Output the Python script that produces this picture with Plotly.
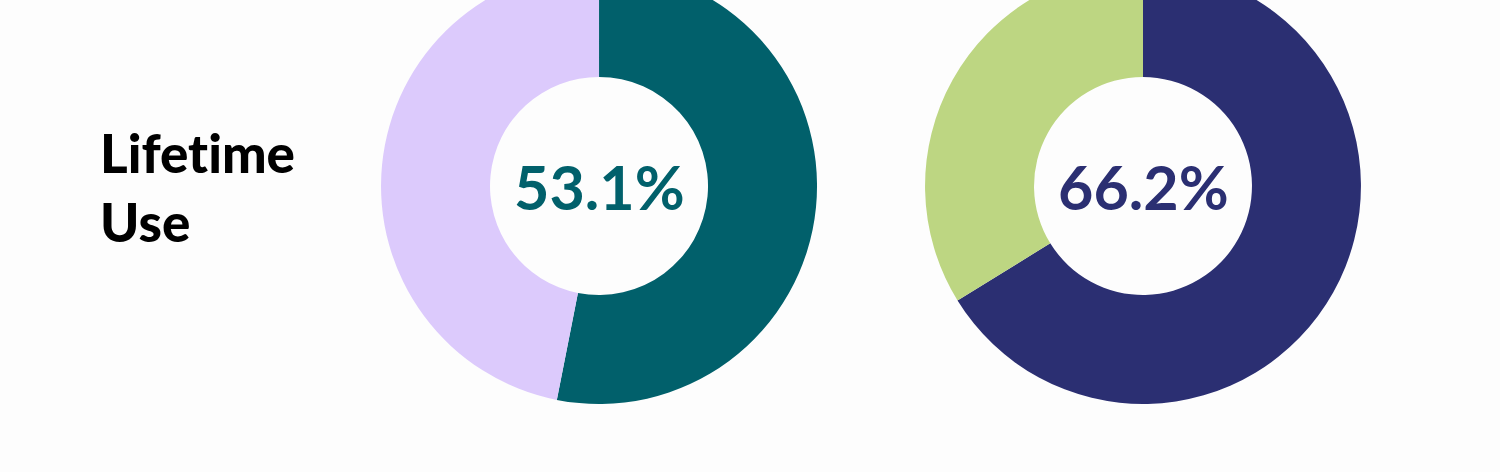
import plotly.graph_objects as go

# share of respondents, lifetime use
left_labels = ["Used", "Not used"]
left_values = [53.1, 46.9]
left_colors = ["#01606b", "#dccafc"]

right_labels = ["Used", "Not used"]
right_values = [66.2, 33.8]
right_colors = ["#2b2f72", "#bdd682"]

# zero-width non-joiner keeps Lato from drawing its "ti" ligature
row_label = "Lifet\u200cime<br>Use"
BG = "#fdfdfd"
CLIP_TOP = 32  # the donuts run off the top edge of the reference

left_dom = [0.254, 0.5447]
right_dom = [0.6167, 0.9073]

fig = go.Figure()
fig.add_trace(go.Pie(
    labels=left_labels, values=left_values, hole=0.5, sort=False,
    direction="clockwise", rotation=0, marker=dict(colors=left_colors),
    textinfo="none", hoverinfo="label+value",
    domain=dict(x=left_dom, y=[0.1349, 1.0]),
))
fig.add_trace(go.Pie(
    labels=right_labels, values=right_values, hole=0.5, sort=False,
    direction="clockwise", rotation=0, marker=dict(colors=right_colors),
    textinfo="none", hoverinfo="label+value",
    domain=dict(x=right_dom, y=[0.1349, 1.0]),
))

for dom, vals, cols in [(left_dom, left_values, left_colors), (right_dom, right_values, right_colors)]:
    fig.add_annotation(x=sum(dom) / 2, y=0.567, xref="paper", yref="paper",
                       xanchor="center", yanchor="middle",
                       text=f"{vals[0]}%", showarrow=False,
                       font=dict(family="Lato", size=61, color=cols[0], weight="bold"))

fig.add_annotation(x=98 / 1500, y=0.5655, xref="paper", yref="paper", xanchor="left",
                   align="left", text=row_label, showarrow=False,
                   font=dict(family="Lato", size=53, color="#000000", weight=900))

fig.update_layout(
    width=1500, height=472 + CLIP_TOP,
    margin=dict(l=0, r=0, t=0, b=0),
    paper_bgcolor=BG, plot_bgcolor=BG,
    showlegend=False,
)

fig.write_html(
    "out.html",
    post_script=(
        "document.body.style.margin='0';document.body.style.overflow='hidden';"
        f"document.getElementById('{{plot_id}}').style.marginTop='-{CLIP_TOP}px';"
    ),
)
